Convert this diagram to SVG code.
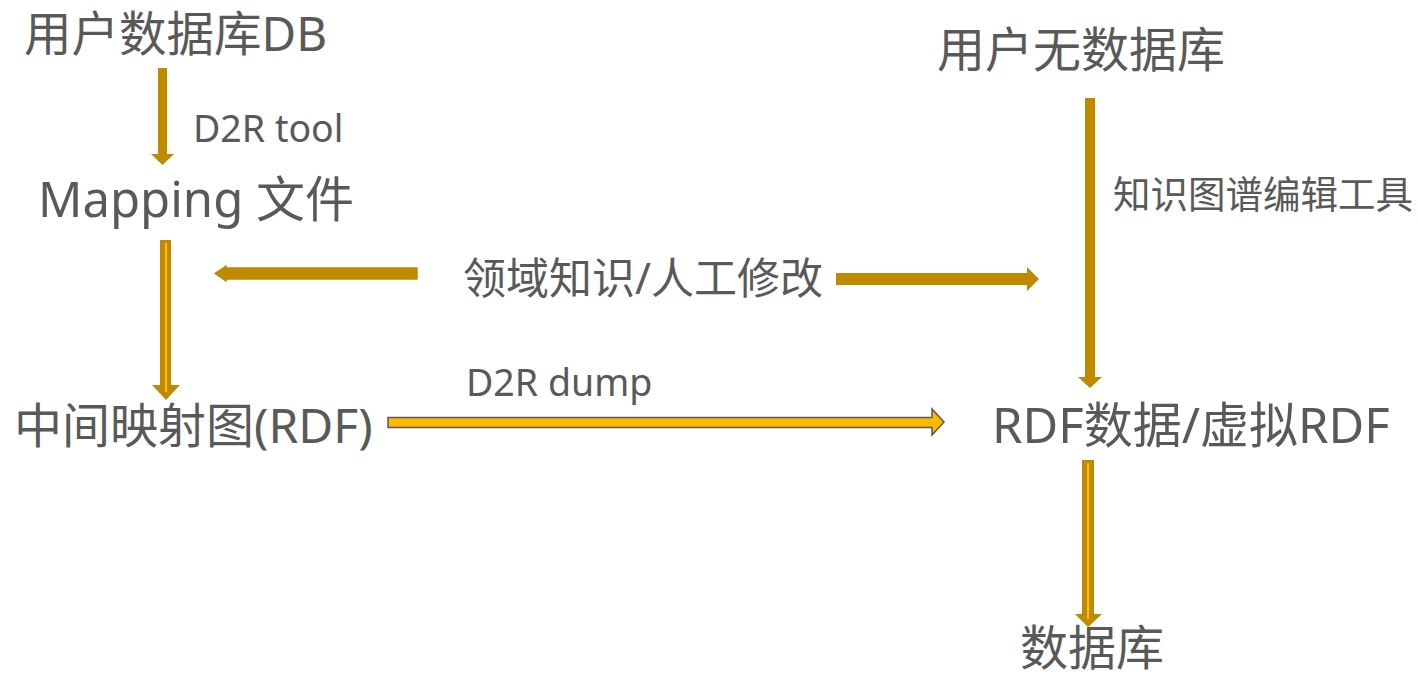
<svg xmlns="http://www.w3.org/2000/svg" width="1418" height="679" viewBox="0 0 1418 679">
<style>
.t{font-family:"Noto Sans","Noto Sans CJK SC",sans-serif;fill:#595959}
.gold{fill:#BF8900}
.inner{stroke:#FFC000;stroke-width:2;fill:none}
.yel{fill:#FFB900;stroke:#595959;stroke-width:1.5;stroke-linejoin:miter}
</style>
<rect width="1418" height="679" fill="#FFFFFF"/>
<g id="connectors">
  <polygon class="gold" points="158,68 167,68 167,154 174,154 162.5,165 151,154 158,154"/>
  <g id="c-mapping-rdf">
    <polygon class="gold" points="160,240 171,240 171,385 180,385 166,400 152,385 160,385"/>
    <line class="inner" x1="166" y1="243" x2="166" y2="392"/>
  </g>
  <polygon class="gold" points="417,268 226,268 226,266 215,273.5 226,281 226,279 417,279" stroke="#BF8900" stroke-width="1.5" stroke-linejoin="round"/>
  <polygon class="gold" points="836,273 1027,273 1027,267 1039,279 1027,291 1027,285 836,285"/>
  <polygon class="yel" points="388,417.5 932,417.5 932,409 944,422 932,435 932,427.5 388,427.5"/>
  <polygon class="gold" points="1085,98 1095,98 1095,377 1102,377 1090,388 1078,377 1085,377"/>
  <g id="c-rdf-db">
    <polygon class="gold" points="1082,460 1094,460 1094,614 1102,614 1088,627 1075,614 1082,614"/>
    <line class="inner" x1="1088" y1="463" x2="1088" y2="619"/>
  </g>
</g>
<g id="n-userdb"><text class="t" x="24" y="51" font-size="47.5">用户数据库DB</text></g>
<g id="l-d2rtool"><text class="t" x="193" y="142" font-size="37.5">D2R tool</text></g>
<g id="n-mapping"><text class="t" x="38" y="217" font-size="49">Mapping 文件</text></g>
<g id="l-domain"><text class="t" x="463" y="294" font-size="43">领域知识/人工修改</text></g>
<g id="n-rdfmap"><text class="t" x="14" y="443" font-size="48">中间映射图(RDF)</text></g>
<g id="l-d2rdump"><text class="t" x="466" y="396" font-size="37.5">D2R dump</text></g>
<g id="n-nodb"><text class="t" x="937" y="67" font-size="48">用户无数据库</text></g>
<g id="l-kgtool"><text class="t" x="1113" y="208" font-size="37.5">知识图谱编辑工具</text></g>
<g id="n-rdfdata"><text class="t" x="992" y="443" font-size="49">RDF数据/虚拟RDF</text></g>
<g id="n-db"><text class="t" x="1020" y="665" font-size="48">数据库</text></g>
</svg>
